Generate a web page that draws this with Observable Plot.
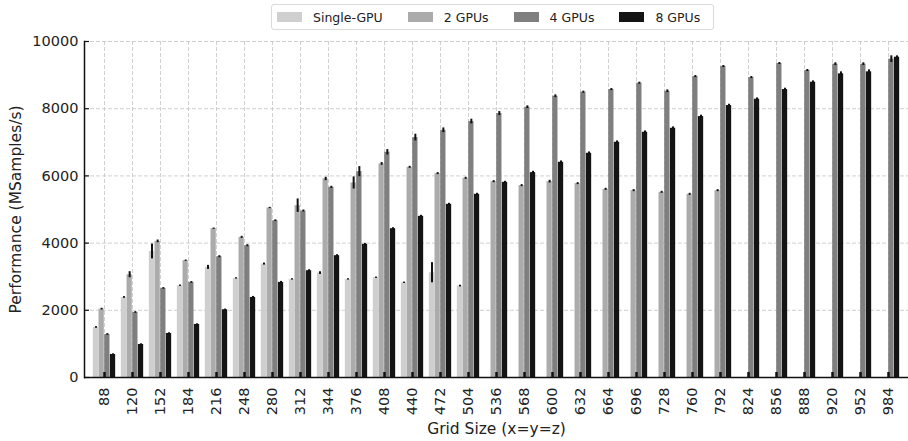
<!DOCTYPE html>
<html><head><meta charset="utf-8">
<script src="https://cdn.jsdelivr.net/npm/d3@7"></script>
<script src="https://cdn.jsdelivr.net/npm/@observablehq/plot@0.6"></script>
<style>
body{margin:0;background:#fff;font-family:"DejaVu Sans",sans-serif;}
#legend{height:32px;position:relative;}
#legend .box{position:absolute;left:271px;top:4px;width:443px;height:26px;box-sizing:border-box;border:1px solid #dadada;border-radius:3px;display:flex;align-items:center;padding-left:5px;font-size:12.5px;color:#222;white-space:nowrap;}
#legend .item{display:flex;align-items:center;margin-right:25px;flex:0 0 auto;white-space:nowrap;}
#legend .sw{width:25px;height:10px;margin-right:11px;flex:0 0 auto;}
</style>
</head><body>
<div id="legend"><div class="box"></div></div>
<div id="chart"></div>
<script>
const sizes = [88,120,152,184,216,248,280,312,344,376,408,440,472,504,536,568,600,632,664,696,728,760,792,824,856,888,920,952,984];
const seriesNames = ["Single-GPU","2 GPUs","4 GPUs","8 GPUs"];
const seriesColors = ["#cfcfcf","#ababab","#7f7f7f","#141414"];
const singleGPU = [1490,2383,3750,2731,3277,2950,3376,2920,3108,2920,2969,2820,3118,2721,null,null,null,null,null,null,null,null,null,null,null,null,null,null,null];
const singleErr = [25,25,220,20,60,20,30,20,40,20,20,20,300,25,0,0,0,0,0,0,0,0,0,0,0,0,0,0,0];
const twoGPU = [2036,3059,4052,3476,4429,4171,5045,5114,5909,5790,6356,6256,6068,5929,5829,5710,5829,5770,5601,5561,5511,5452,5561,null,null,null,null,null,null];
const twoErr = [25,90,40,20,20,30,20,200,50,180,40,30,30,30,30,30,40,30,30,30,30,30,30,0,0,0,0,0,0];
const fourGPU = [1281,1936,2651,2830,3595,3923,4667,4955,5660,6127,6703,7140,7358,7617,7855,8044,8371,8491,8570,8759,8520,8957,9255,8927,9345,9136,9325,9325,9474];
const fourErr = [25,25,25,25,30,30,25,30,30,150,80,100,70,70,60,40,40,30,30,30,40,30,30,30,30,30,40,40,100];
const eightGPU = [685,983,1311,1579,2016,2383,2830,3178,3625,3962,4429,4796,5154,5452,5809,6097,6405,6673,7001,7299,7418,7766,8093,8282,8570,8788,9037,9097,9533];
const eightErr = [20,20,20,20,20,30,30,30,30,30,30,30,30,30,30,40,40,40,40,40,40,40,40,40,40,40,60,60,40];
const yTicks = [0,2000,4000,6000,8000,10000];

const values = [singleGPU, twoGPU, fourGPU, eightGPU];
const errs = [singleErr, twoErr, fourErr, eightErr];

// legend
const box = document.querySelector("#legend .box");
seriesNames.forEach((n,i)=>{
  const it = document.createElement("div"); it.className="item";
  const sw = document.createElement("div"); sw.className="sw"; sw.style.background=seriesColors[i];
  const tx = document.createElement("span"); tx.textContent=n;
  it.appendChild(sw); it.appendChild(tx); box.appendChild(it);
});

const W = 908, H = 409, mL = 84, mR = 0, mT = 9, mB = 64;
const step = (W - mL - mR) / sizes.length;

const rowsFor = i => sizes.map((s,j)=>({size:s, value:values[i][j], err:errs[i][j]})).filter(d=>d.value!=null);

const marks = [
  Plot.gridY(yTicks.slice(1), {stroke:"#c4c4c4", strokeOpacity:1, strokeWidth:0.8, strokeDasharray:"4,2"}),
  Plot.gridX(sizes, {stroke:"#c4c4c4", strokeOpacity:1, strokeWidth:0.8, strokeDasharray:"4,2"})
];
for (let i=0;i<4;i++){
  const rows = rowsFor(i);
  const left = step*(0.1+0.2*i);
  marks.push(Plot.barY(rows, {x:"size", y:"value", fill:seriesColors[i], insetLeft:left, insetRight: step-left-step*0.2}));
}
for (let i=0;i<4;i++){
  const rows = rowsFor(i).filter(d=>d.err>0);
  const off = step*(0.2*i-0.3);
  marks.push(Plot.ruleX(rows, {x:"size", y1:d=>d.value-d.err, y2:d=>d.value+d.err, dx:off, stroke:"#111", strokeWidth:2}));
}
marks.push(
  Plot.ruleY([0], {stroke:"#111", strokeWidth:1.5}),
  Plot.frame({anchor:"left", stroke:"#111", strokeWidth:1.5}),
  Plot.axisX(sizes, {tickSize:-5, strokeWidth:2.5, tickRotate:-90, tickPadding:15, fontSize:14.5, fill:"#222", stroke:"#111",
     label:"Grid Size (x=y=z)", labelAnchor:"center", labelOffset:56, labelArrow:false}),
  Plot.axisY(yTicks, {tickSize:-5, strokeWidth:1.2, tickPadding:11, fontSize:14.5, fill:"#222", stroke:"#111", tickFormat:d=>String(d),
     label:"Performance (MSamples/s)", labelAnchor:"center", labelOffset:75, labelArrow:false})
);

const chart = Plot.plot({
  width: W, height: H, marginLeft: mL, marginRight: mR, marginTop: mT, marginBottom: mB,
  style: {fontFamily:"DejaVu Sans, sans-serif", fontSize:"14.5px", color:"#222", background:"#fff"},
  x: {type:"band", domain:sizes, padding:0},
  y: {domain:[0,10000]},
  marks
});
d3.select(chart).selectAll('g[aria-label="x-axis label"] text, g[aria-label="y-axis label"] text')
  .attr("font-size", "15.5px");
document.getElementById("chart").appendChild(chart);
</script>
</body></html>
